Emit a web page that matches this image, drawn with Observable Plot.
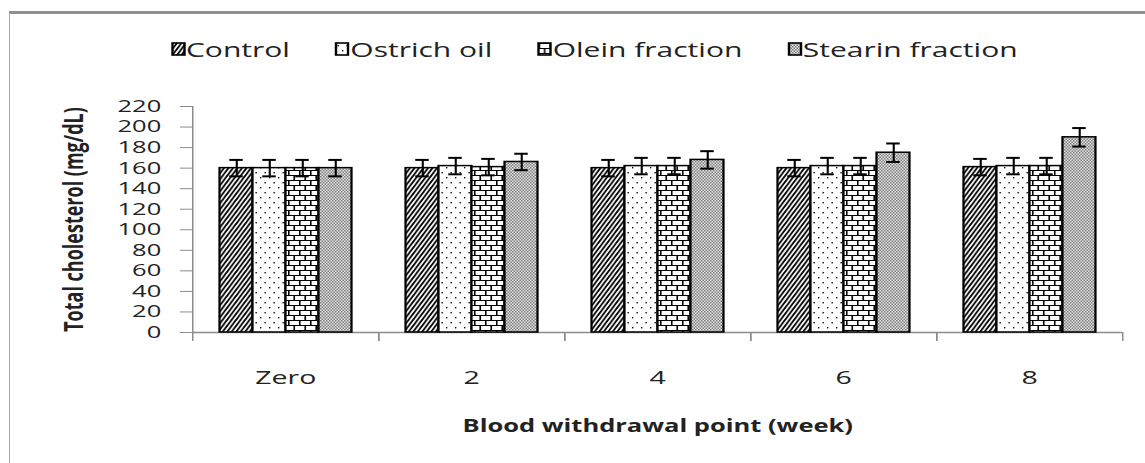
<!DOCTYPE html>
<html><head><meta charset="utf-8">
<script src="https://cdn.jsdelivr.net/npm/d3@7"></script>
<script src="https://cdn.jsdelivr.net/npm/@observablehq/plot@0.6"></script>
<style>
html,body{margin:0;padding:0;background:#fff;overflow:hidden;width:1145px;height:463px}
#border{position:absolute;left:9px;top:11px;width:1136px;height:452px;border-top:3px solid #909090;border-left:1px solid #a8a8a8;box-sizing:border-box}
#fig{position:absolute;left:0;top:0;width:763.333px;transform:scaleX(1.5);transform-origin:0 0}
#legend{height:80px;box-sizing:border-box;padding-top:34px;padding-left:114.7px}
#legend .lg-swatches{font-family:'Open Sans',sans-serif;font-size:20px;color:#222;margin:0}
#legend .lg-swatches-wrap{min-height:30px}
#legend .lg-swatch{margin-right:31px}
#legend .lg-swatch>svg{margin-right:1.3px}
#legend .lg-swatch rect{stroke:#000;stroke-width:1.6px}
g[aria-label="y-axis label"] text{font-weight:700;font-size:18px}
g[aria-label="fx-axis label"] text{font-weight:700;font-size:17px}
</style></head>
<body>
<svg width="0" height="0" style="position:absolute">
<defs>
<pattern id="pCtrl" patternUnits="userSpaceOnUse" width="3" height="6">
<rect width="3" height="6" fill="#fff"/>
<path d="M-0.5,7 L3.5,-1 M-3.5,7 L0.5,-1 M2.5,7 L6.5,-1" stroke="#000" stroke-width="1.35"/>
</pattern>
<pattern id="pOst" patternUnits="userSpaceOnUse" width="6" height="10">
<rect width="6" height="10" fill="#fff"/>
<rect x="1" y="2" width="0.9" height="1.4" fill="#000"/>
<rect x="4" y="7" width="0.9" height="1.4" fill="#000"/>
</pattern>
<pattern id="pOle" patternUnits="userSpaceOnUse" width="7.333" height="10">
<rect width="7.333" height="10" fill="#fff"/>
<path d="M0,0.5 H7.333 M0,5.5 H7.333 M0.5,0.5 V5.5 M4.17,5.5 V10.5 M4.17,-0.5 V0.5" stroke="#000" stroke-width="1.1"/>
</pattern>
<pattern id="pSte" patternUnits="userSpaceOnUse" width="2" height="3">
<rect width="2" height="3" fill="#e4e4e4"/>
<rect x="0" y="0" width="1" height="1.5" fill="#7c7c7c"/>
<rect x="1" y="1.5" width="1" height="1.5" fill="#7c7c7c"/>
</pattern>
</defs>
</svg>
<div id="border"></div>
<div id="fig"><div id="legend"></div><div id="chart"></div></div>
<script>
const weeks = ["Zero", "2", "4", "6", "8"];
const series = ["Control", "Ostrich oil", "Olein fraction", "Stearin fraction"];
const control = [160, 160, 160, 160, 161];
const ostrichOil = [160, 162, 162, 162, 162];
const oleinFraction = [160, 161, 162, 162, 162];
const stearinFraction = [160, 166, 168, 175, 190];
const controlErr = [8, 8, 8, 8, 8];
const ostrichOilErr = [8, 8, 8, 8, 8];
const oleinFractionErr = [8, 8, 8, 8, 8];
const stearinFractionErr = [8, 8, 8.5, 9, 9];
const yTicks = [0, 20, 40, 60, 80, 100, 120, 140, 160, 180, 200, 220];
const yLabel = "Total cholesterol (mg/dL)";
const xLabel = "Blood withdrawal point (week)";
const patterns = ["url(#pCtrl)", "url(#pOst)", "url(#pOle)", "url(#pSte)"];

const values = [control, ostrichOil, oleinFraction, stearinFraction];
const errs = [controlErr, ostrichOilErr, oleinFractionErr, stearinFractionErr];
const rows = [];
weeks.forEach((w, i) => series.forEach((s, j) => rows.push({week: w, series: s, value: values[j][i], err: errs[j][i]})));

const S = 1.5;
const W = 1145 / S;
const H = 383;
const mT = 26, mB = 131;
const grey = "#8c8c8c";

const chart = Plot.plot({
  width: W, height: H,
  marginTop: mT, marginBottom: mB, marginLeft: 190 / S, marginRight: 22 / S,
  style: {fontFamily: "'Open Sans', sans-serif", fontSize: "17px", color: "#222", background: "transparent", overflow: "visible"},
  fx: {domain: weeks, padding: 0},
  x: {domain: series, paddingInner: 0, paddingOuter: 0.725, axis: null},
  y: {domain: [0, 220]},
  color: {domain: series, range: patterns},
  marks: [
    Plot.ruleY([0], {stroke: grey, strokeWidth: 1.3}),
    Plot.frame({anchor: "left", stroke: grey, strokeWidth: 1, facetAnchor: "left"}),
    Plot.frame({anchor: "left", stroke: grey, strokeWidth: 1, insetTop: H - mT - mB, insetBottom: -8}),
    Plot.frame({anchor: "right", stroke: grey, strokeWidth: 1, insetTop: H - mT - mB, insetBottom: -8}),
    Plot.barY(rows, {fx: "week", x: "series", y: "value", fill: "series", stroke: "#000", strokeWidth: 1.5}),
    Plot.ruleX(rows, {fx: "week", x: "series", y1: d => d.value - d.err, y2: d => d.value + d.err, stroke: "#000", strokeWidth: 1.4}),
    Plot.tickY(rows, {fx: "week", x: "series", y: d => d.value - d.err, stroke: "#000", strokeWidth: 2, insetLeft: 6.5, insetRight: 6.5}),
    Plot.tickY(rows, {fx: "week", x: "series", y: d => d.value + d.err, stroke: "#000", strokeWidth: 2, insetLeft: 6.5, insetRight: 6.5}),
    Plot.axisY({ticks: yTicks, tickSize: 8, tickPadding: 13, stroke: grey, fill: "#222", fontSize: 17, label: yLabel, labelAnchor: "center", labelOffset: 86, labelArrow: false}),
    Plot.axisFx({anchor: "bottom", tickSize: 0, tickPadding: 38, fill: "#222", fontSize: 19, label: xLabel, labelAnchor: "center", labelOffset: 100})
  ]
});
document.getElementById("chart").appendChild(chart);
const leg = chart.legend("color", {className: "lg", swatchWidth: 8, swatchHeight: 12});
document.getElementById("legend").appendChild(leg);
</script>
</body></html>
